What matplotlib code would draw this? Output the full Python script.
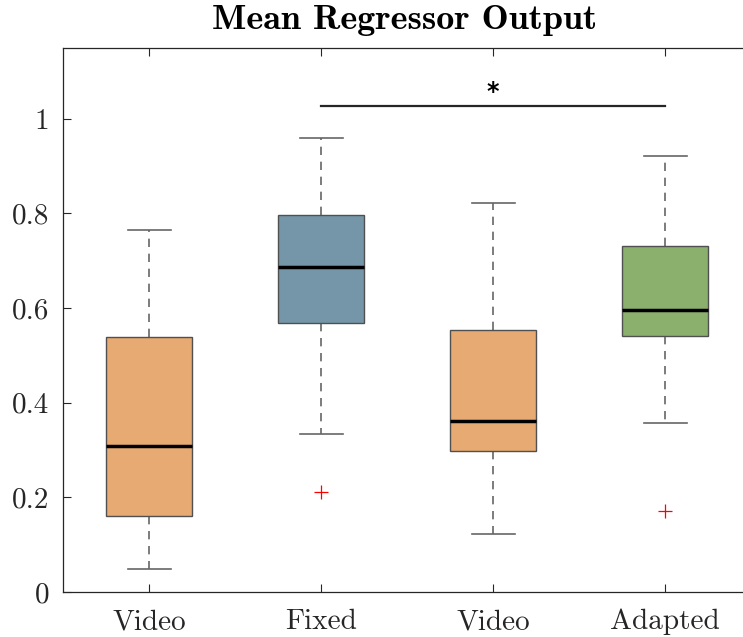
import matplotlib
matplotlib.use("Agg")
import matplotlib.pyplot as plt

categories = ["Video", "Fixed", "Video", "Adapted"]
whisker_low = [0.049, 0.334, 0.122, 0.357]
q1 = [0.161, 0.569, 0.298, 0.540]
median = [0.309, 0.687, 0.362, 0.596]
q3 = [0.539, 0.797, 0.554, 0.731]
whisker_high = [0.765, 0.958, 0.822, 0.920]
outliers = [[], [0.211], [], [0.171]]
box_colors = ["#E6AA72", "#7596A8", "#E6AA72", "#8BAF6D"]
sig_pair = (2, 4)
sig_y = 1.027

plt.rcParams['axes.formatter.use_mathtext'] = True
fig = plt.figure(figsize=(7.43, 6.37), dpi=100)
W, H = 743, 637
left, right, top, bottom = 63, 751, 47.5, 592
ax = fig.add_axes([left / W, (H - bottom) / H, (right - left) / W, (bottom - top) / H])

stats = []
for i in range(len(categories)):
    stats.append(dict(med=median[i], q1=q1[i], q3=q3[i], whislo=whisker_low[i],
                      whishi=whisker_high[i], fliers=outliers[i], label=categories[i]))

bp = ax.bxp(stats, positions=range(1, len(categories) + 1), widths=0.5, patch_artist=True,
            showfliers=True,
            boxprops=dict(edgecolor="#505050", linewidth=1.0),
            medianprops=dict(color="black", linewidth=2.5),
            whiskerprops=dict(color="#666666", linewidth=1.2, linestyle=(0, (5, 4))),
            capprops=dict(color="#666666", linewidth=1.2),
            flierprops=dict(marker="+", markeredgecolor="red", markersize=10, markeredgewidth=0.9, linestyle="none"),
            capwidths=0.25)
for patch, c in zip(bp["boxes"], box_colors):
    patch.set_facecolor(c)
for w in bp["whiskers"]:
    w.set_zorder(1)

ax.set_xlim(0.5, 4.5)
ax.set_ylim(0, 1.15)
ax.set_yticks([0, 0.2, 0.4, 0.6, 0.8, 1.0])
ax.set_yticklabels(["0", "0.2", "0.4", "0.6", "0.8", "1"], fontfamily="cmr10", fontsize=21, color="#262626")
ax.set_xticks(range(1, 5))
ax.set_xticklabels(categories, fontfamily="cmr10", fontsize=21, color="#262626")
ax.tick_params(direction="in", length=6, width=0.8, color="#262626", top=True, right=True)
ax.tick_params(axis="x", pad=12)
ax.tick_params(axis="y", pad=10)
for s in ax.spines.values():
    s.set_color("#262626")
    s.set_linewidth(0.9)

ax.plot([sig_pair[0], sig_pair[1]], [sig_y, sig_y], color="#262626", linewidth=1.6)
ax.text((sig_pair[0] + sig_pair[1]) / 2, sig_y + 0.03, "*", ha="center", va="center",
        fontsize=17, fontweight="bold", fontfamily="DejaVu Sans")

fig.text(405 / W, 1 - 20 / H, "Mean Regressor Output", ha="center", va="center",
         fontfamily="cmb10", fontsize=26)

fig.savefig("out.png", dpi=100)
